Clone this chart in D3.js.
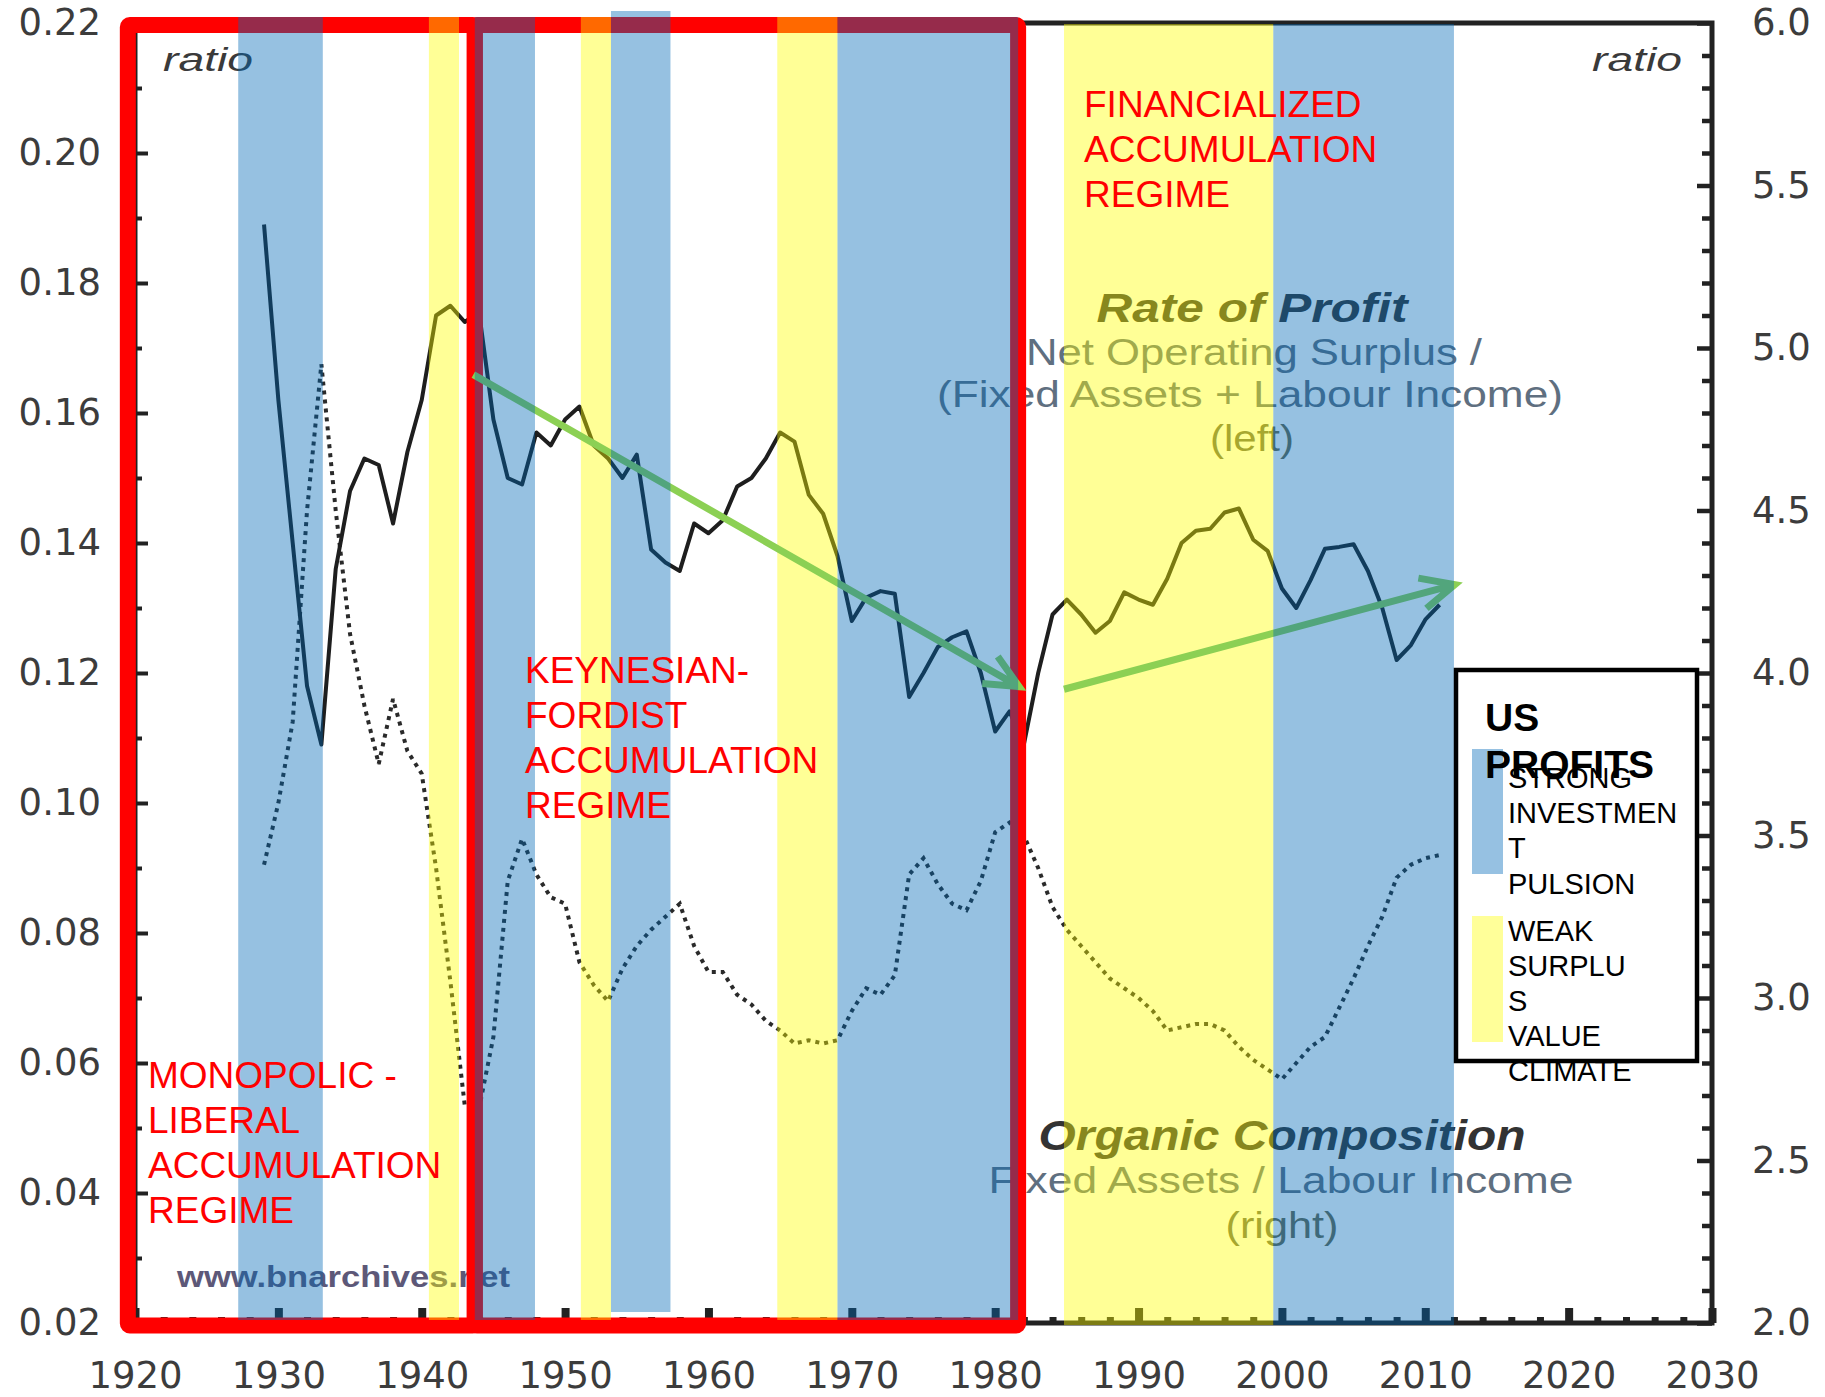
<!DOCTYPE html>
<html>
<head>
<meta charset="utf-8">
<script src="https://cdn.jsdelivr.net/npm/d3@7"></script>
<style>
  body { margin: 0; background: #fff; }
  svg { display: block; }
</style>
</head>
<body>
<div id="chart"></div>
<script>
// years covered by both series
const years = d3.range(1929, 2012);

// rate of profit (left axis)
const rateOfProfit = [
  0.189, 0.162, 0.140, 0.118, 0.109, 0.136, 0.148, 0.153, 0.152, 0.143,
  0.154, 0.162, 0.175, 0.1765, 0.174, 0.1755, 0.159, 0.150, 0.149, 0.157,
  0.155, 0.159, 0.161, 0.155, 0.153, 0.150, 0.1536, 0.139, 0.137, 0.1357,
  0.143, 0.1415, 0.1435, 0.1487, 0.150, 0.153, 0.157, 0.1556, 0.1474, 0.1445,
  0.138, 0.128, 0.1316, 0.1326, 0.1322, 0.1163, 0.120, 0.124, 0.1255, 0.1264,
  0.120, 0.111, 0.1141, 0.109, 0.120, 0.129, 0.1313, 0.129, 0.1262, 0.128,
  0.1324, 0.1313, 0.1305, 0.1345, 0.140, 0.1419, 0.1422, 0.1447, 0.1453, 0.1405,
  0.1388, 0.133, 0.130, 0.1343, 0.1391, 0.1394, 0.1398, 0.1357, 0.130, 0.122,
  0.1243, 0.1282, 0.1305
];

// organic composition (right axis)
const organicComposition = [
  3.41, 3.60, 3.85, 4.50, 4.95, 4.50, 4.12, 3.90, 3.72, 3.92,
  3.76, 3.69, 3.40, 3.05, 2.67, 2.66, 2.88, 3.36, 3.49, 3.38,
  3.31, 3.29, 3.11, 3.04, 2.99, 3.09, 3.16, 3.21, 3.25, 3.29,
  3.16, 3.08, 3.08, 3.01, 2.98, 2.93, 2.90, 2.86, 2.87, 2.86,
  2.87, 2.96, 3.03, 3.01, 3.07, 3.38, 3.43, 3.35, 3.29, 3.27,
  3.36, 3.51, 3.54, 3.50, 3.40, 3.28, 3.21, 3.16, 3.11, 3.06,
  3.03, 3.00, 2.96, 2.90, 2.91, 2.92, 2.92, 2.90, 2.85, 2.81,
  2.78, 2.75, 2.80, 2.85, 2.88, 2.97, 3.06, 3.16, 3.25, 3.37,
  3.41, 3.43, 3.44
];

// shaded periods
const strongBands = [[1927.2, 1933.1], [1943.7, 1947.9], [1953.2, 1957.35], [1969.0, 1981.6], [1999.4, 2012.0]];
const weakBands = [[1940.5, 1942.6], [1951.1, 1953.2], [1964.8, 1969.0], [1984.8, 1999.4]];

// accumulation regimes (framed in red)
const regimeSpans = [[1919.5, 1943.7], [1943.7, 1981.6]];
const regimeLabels = [
  ["MONOPOLIC -", "LIBERAL", "ACCUMULATION", "REGIME"],
  ["KEYNESIAN-", "FORDIST", "ACCUMULATION", "REGIME"],
  ["FINANCIALIZED", "ACCUMULATION", "REGIME"]
];

// trend arrows [year, rate of profit]
const trendArrows = [
  [[1943.6, 0.1659], [1981.67, 0.1179]],
  [[1984.8, 0.1175], [2012.06, 0.1336]]
];

// ticks
const leftTicks = d3.range(0.02, 0.2201, 0.02);
const rightTicks = d3.range(2, 6.01, 0.5);
const yearTicks = d3.range(1920, 2031, 10);

const W = 1825, H = 1397;
const sans = "'Liberation Sans', Arial, sans-serif";
const axisFont = "'DejaVu Sans', sans-serif";

const svg = d3.select("#chart").append("svg")
  .attr("width", W)
  .attr("height", H)
  .attr("viewBox", [0, 0, W, H]);

const x = d3.scaleLinear().domain([1920, 2030]).range([135, 1712]);
const yLeft = d3.scaleLinear().domain([0.02, 0.22]).range([1323, 23]);
const yRight = d3.scaleLinear().domain([2, 6]).range([1323, 23]);

const [x0, x1] = x.range();
const [yBot, yTop] = yLeft.range();

// --- axes ---
const axesG = svg.append("g").attr("class", "axes");

function styleAxis(g, width) {
  g.select(".domain").remove();
  g.selectAll(".tick line").attr("stroke", "#222").attr("stroke-width", width);
  g.selectAll(".tick text")
    .attr("font-family", axisFont)
    .attr("font-size", 37)
    .attr("fill", "#3c3c3c");
}

// minor ticks first
axesG.append("g")
  .attr("transform", `translate(0,${yBot})`)
  .call(d3.axisBottom(x).tickValues(d3.range(1922, 2030, 2).filter(v => v % 10 !== 0)).tickSize(-6).tickFormat(""))
  .call(g => styleAxis(g, 7));
axesG.append("g")
  .attr("transform", `translate(${x0},0)`)
  .call(d3.axisLeft(yLeft).tickValues(d3.range(0.03, 0.22, 0.02)).tickSize(-7).tickFormat(""))
  .call(g => styleAxis(g, 4));
axesG.append("g")
  .attr("transform", `translate(${x1},0)`)
  .call(d3.axisRight(yRight).tickValues(d3.range(2.1, 6, 0.1).filter(v => Math.abs(v * 2 - Math.round(v * 2)) > 0.01)).tickSize(-10).tickFormat(""))
  .call(g => styleAxis(g, 4.5));

// major ticks with labels
axesG.append("g")
  .attr("transform", `translate(0,${yBot})`)
  .call(d3.axisBottom(x).tickValues(yearTicks).tickSize(-15).tickPadding(39).tickFormat(d3.format("d")))
  .call(g => styleAxis(g, 8));
axesG.append("g")
  .attr("transform", `translate(${x0},0)`)
  .call(d3.axisLeft(yLeft).tickValues(leftTicks).tickSize(-13).tickPadding(34).tickFormat(d3.format(".2f")))
  .call(g => styleAxis(g, 4));
axesG.append("g")
  .attr("transform", `translate(${x1},0)`)
  .call(d3.axisRight(yRight).tickValues(rightTicks).tickSize(-15).tickPadding(40).tickFormat(d3.format(".1f")))
  .call(g => styleAxis(g, 4.5));

// frame
axesG.append("path")
  .attr("d", `M${x0},${yTop}H${x1}V${yBot}H${x0}Z`)
  .attr("fill", "none")
  .attr("stroke", "#222")
  .attr("stroke-width", 5);

// --- series ---
const seriesG = svg.append("g").attr("class", "series");

const profitLine = d3.line()
  .x((d, i) => x(years[i]))
  .y(d => yLeft(d));
const compositionLine = d3.line()
  .x((d, i) => x(years[i]))
  .y(d => yRight(d));

seriesG.append("path")
  .attr("d", compositionLine(organicComposition))
  .attr("fill", "none")
  .attr("stroke", "#2a2a2a")
  .attr("stroke-width", 4)
  .attr("stroke-dasharray", "4,5");

seriesG.append("path")
  .attr("d", profitLine(rateOfProfit))
  .attr("fill", "none")
  .attr("stroke", "#1e1e1e")
  .attr("stroke-width", 4)
  .attr("stroke-linejoin", "round");

// --- grey chart notes ---
const notesG = svg.append("g").attr("class", "notes").attr("font-family", sans);

function note(txt, px, py, opts) {
  const t = notesG.append("text")
    .attr("x", px).attr("y", py)
    .attr("font-size", opts.size)
    .attr("fill", opts.fill || "#333")
    .attr("text-anchor", opts.anchor || "middle")
    .text(txt);
  if (opts.italic) t.attr("font-style", "italic");
  if (opts.bold) t.attr("font-weight", "bold");
  if (opts.len) t.attr("textLength", opts.len).attr("lengthAdjust", "spacingAndGlyphs");
  return t;
}

note("ratio", 163, 71, { size: 34, italic: true, anchor: "start", len: 90, fill: "#3a3a3a" });
note("ratio", 1682, 71, { size: 34, italic: true, anchor: "end", len: 90, fill: "#3a3a3a" });

note("Rate of Profit", 1252, 322, { size: 40, bold: true, italic: true, len: 311, fill: "#333" });
note("Net Operating Surplus /", 1254, 365, { size: 37, len: 456, fill: "#5f6f80" });
note("(Fixed Assets + Labour Income)", 1250, 407, { size: 37, len: 626, fill: "#5f6f80" });
note("(left)", 1252, 451, { size: 37, len: 84, fill: "#6a6a50" });

note("Organic Composition", 1282, 1150, { size: 42, bold: true, italic: true, len: 487, fill: "#333" });
note("Fixed Assets / Labour Income", 1281, 1193, { size: 37, len: 585, fill: "#5f6f80" });
note("(right)", 1282, 1238, { size: 37, len: 113, fill: "#6a6a50" });

note("www.bnarchives.net", 177, 1287, { size: 30, bold: true, anchor: "start", len: 333, fill: "#5d5878" });

// --- regime frames ---
svg.append("g").attr("class", "regimes")
  .selectAll("rect")
  .data(regimeSpans)
  .join("rect")
  .attr("x", d => x(d[0]))
  .attr("y", yTop + 2)
  .attr("width", d => x(d[1]) - x(d[0]))
  .attr("height", yBot - yTop + 0.5)
  .attr("rx", 2)
  .attr("fill", "none")
  .attr("stroke", "#ff0000")
  .attr("stroke-width", 16);

// --- weak surplus value bands (yellow) ---
svg.append("g").attr("class", "weak")
  .selectAll("rect")
  .data(weakBands)
  .join("rect")
  .attr("x", d => x(d[0]))
  .attr("width", d => x(d[1]) - x(d[0]))
  .attr("y", d => d[0] > 1982 ? yTop + 1 : 17)
  .attr("height", d => (d[0] > 1982 ? yBot + 2 : 1320) - (d[0] > 1982 ? yTop + 1 : 17))
  .attr("fill", "rgb(255,255,0)")
  .attr("fill-opacity", 0.41);

// --- trend arrows ---
const arrowsG = svg.append("g").attr("class", "arrows");
trendArrows.forEach(a => {
  const [p0, p1] = a.map(d => [x(d[0]), yLeft(d[1])]);
  const ang = Math.atan2(p0[1] - p1[1], p0[0] - p1[0]);
  const arm = 37, spread = 25 * Math.PI / 180;
  const h1 = [p1[0] + arm * Math.cos(ang + spread), p1[1] + arm * Math.sin(ang + spread)];
  const h2 = [p1[0] + arm * Math.cos(ang - spread), p1[1] + arm * Math.sin(ang - spread)];
  arrowsG.append("path")
    .attr("d", d3.line()([p0, p1]) + d3.line()([h1, p1, h2]))
    .attr("fill", "none")
    .attr("stroke", "#8cd054")
    .attr("stroke-width", 7)
    .attr("stroke-linejoin", "miter");
});

// --- strong investment pulsion bands (blue) ---
svg.append("g").attr("class", "strong")
  .selectAll("rect")
  .data(strongBands)
  .join("rect")
  .attr("x", d => x(d[0]))
  .attr("width", d => x(d[1]) - x(d[0]))
  .attr("y", (d, i) => i === 2 ? 11 : (d[0] > 1982 ? yTop + 1 : 17))
  .attr("height", (d, i) => {
    const top = i === 2 ? 11 : (d[0] > 1982 ? yTop + 1 : 17);
    const bot = i === 2 ? 1312 : (d[0] > 1982 ? yBot + 2 : 1320);
    return bot - top;
  })
  .attr("fill", "rgb(0,104,182)")
  .attr("fill-opacity", 0.41);

// --- regime labels ---
const labelsG = svg.append("g").attr("class", "regime-labels")
  .attr("font-family", sans)
  .attr("font-size", 37)
  .attr("fill", "#ff0000");
const labelAnchors = [[148, 1088], [525, 683], [1084, 117]];
regimeLabels.forEach((lines, k) => {
  const t = labelsG.append("text")
    .attr("x", labelAnchors[k][0])
    .attr("y", labelAnchors[k][1]);
  t.selectAll("tspan")
    .data(lines)
    .join("tspan")
    .attr("x", labelAnchors[k][0])
    .attr("dy", (d, i) => i === 0 ? 0 : 45)
    .text(d => d);
});

// --- legend ---
const legend = svg.append("g").attr("class", "legend").attr("font-family", sans);
legend.append("rect")
  .attr("x", 1456).attr("y", 670)
  .attr("width", 241).attr("height", 391)
  .attr("fill", "#fff")
  .attr("stroke", "#000")
  .attr("stroke-width", 4.5);
legend.append("rect")
  .attr("x", 1472).attr("y", 749).attr("width", 31).attr("height", 125)
  .attr("fill", "#96c1e2");
legend.append("rect")
  .attr("x", 1472).attr("y", 916).attr("width", 31).attr("height", 126)
  .attr("fill", "#ffff99");

const legendTitle = ["US", "PROFITS"];
legend.append("text")
  .attr("font-size", 39).attr("font-weight", "bold").attr("fill", "#000")
  .selectAll("tspan")
  .data(legendTitle)
  .join("tspan")
  .attr("x", 1485)
  .attr("y", (d, i) => 731 + i * 47)
  .text(d => d);

const legendItems = [
  ["STRONG", "INVESTMEN", "T", "PULSION"],
  ["WEAK", "SURPLU", "S", "VALUE", "CLIMATE"]
];
const legendTops = [788, 940.5];
legendItems.forEach((lines, k) => {
  legend.append("text")
    .attr("font-size", 29).attr("fill", "#000")
    .selectAll("tspan")
    .data(lines)
    .join("tspan")
    .attr("x", 1508)
    .attr("y", (d, i) => legendTops[k] + i * 35.2)
    .text(d => d);
});
</script>
</body>
</html>
